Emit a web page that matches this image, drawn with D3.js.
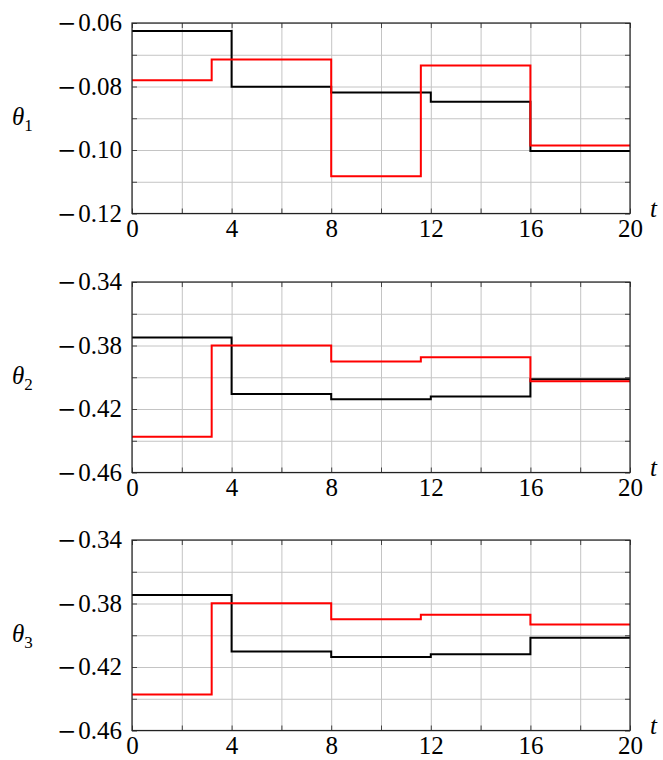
<!DOCTYPE html>
<html>
<meta charset="utf-8" />
<head>
<style>
body { margin: 0; background: #fff; }
</style>
<script src="https://d3js.org/d3.v7.min.js" charset="utf-8"></script>
</head>
<body>
<svg class="chart"></svg>
<script>
// switching times for the two step curves
var tBlack = [0, 4, 8, 12, 16, 20];
var tRed = [0, 3.2, 8, 11.6, 16, 20];

// piecewise-constant values (one per interval)
var theta1Black = [-0.0625, -0.0801, -0.0819, -0.0848, -0.1003];
var theta1Red = [-0.0780, -0.0715, -0.1083, -0.0734, -0.0986];
var theta2Black = [-0.3750, -0.4106, -0.4139, -0.4122, -0.4013];
var theta2Red = [-0.4375, -0.3800, -0.3900, -0.3874, -0.4025];
var theta3Black = [-0.3747, -0.4103, -0.4137, -0.4120, -0.4015];
var theta3Red = [-0.4373, -0.3798, -0.3899, -0.3871, -0.3933];

var xLabelTicks = [0, 4, 8, 12, 16, 20];
var xGridTicks = [0, 2, 4, 6, 8, 10, 12, 14, 16, 18, 20];
var yDomains = [[-0.12, -0.06], [-0.46, -0.34], [-0.46, -0.34]];
var yLabelTicks = [[-0.12, -0.10, -0.08, -0.06], [-0.46, -0.42, -0.38, -0.34], [-0.46, -0.42, -0.38, -0.34]];
var yGridTicks = [d3.range(-0.12, -0.0599, 0.01), d3.range(-0.46, -0.3399, 0.02), d3.range(-0.46, -0.3399, 0.02)];
var panelNames = ["1", "2", "3"];

var chartWidth = 663, chartHeight = 760;
var left = 132, plotW = 498, plotH = 190.5;
var panelTops = [23, 282, 540];
var serif = "'Liberation Serif', 'DejaVu Serif', serif";
var fs = 25;

var svg = d3.select(".chart")
  .attr("width", chartWidth)
  .attr("height", chartHeight)
  .style("display", "block");

var x = d3.scaleLinear().domain([0, 20]).range([0, plotW]);

function stepData(ts, vals) {
  var pts = ts.slice(0, -1).map(function(t, i) { return [t, vals[i]]; });
  pts.push([ts[ts.length - 1], vals[vals.length - 1]]);
  return pts;
}

var series = [
  [theta1Black, theta1Red],
  [theta2Black, theta2Red],
  [theta3Black, theta3Red]
];

// long math-style minus sign in front of the number
function splitMinus(sel) {
  sel.each(function(d) {
    var s = d3.select(this);
    var txt = s.text();
    if (txt.charAt(0) == "\u2212") {
      s.text(null);
      s.append("tspan").attr("font-family", "'DejaVu Serif'").attr("font-size", 23)
        .attr("font-weight", 300).text("\u2212");
      s.append("tspan").attr("dx", 2).text(txt.slice(1));
    }
  });
}

series.forEach(function(sv, p) {
  var g = svg.append("g").attr("transform", "translate(" + left + "," + panelTops[p] + ")");
  var y = d3.scaleLinear().domain(yDomains[p]).range([plotH, 0]);

  // grid
  g.append("g").attr("class", "grid")
    .attr("transform", "translate(0," + plotH + ")")
    .call(d3.axisBottom(x).tickValues(xGridTicks).tickSize(-plotH).tickFormat(""));
  g.append("g").attr("class", "grid")
    .call(d3.axisLeft(y).tickValues(yGridTicks[p]).tickSize(-plotW).tickFormat(""));
  g.selectAll(".grid .domain").remove();
  g.selectAll(".grid line").attr("stroke", "#c4c4c4").attr("stroke-width", 1);

  // inward tick marks on all sides
  var tk = 5;
  g.append("g").attr("class", "tk").attr("transform", "translate(0," + plotH + ")")
    .call(d3.axisBottom(x).tickValues(xGridTicks).tickSize(-tk).tickFormat(""));
  g.append("g").attr("class", "tk")
    .call(d3.axisTop(x).tickValues(xGridTicks).tickSize(-tk).tickFormat(""));
  g.append("g").attr("class", "tk")
    .call(d3.axisLeft(y).tickValues(yGridTicks[p]).tickSize(-tk).tickFormat(""));
  g.append("g").attr("class", "tk").attr("transform", "translate(" + plotW + ",0)")
    .call(d3.axisRight(y).tickValues(yGridTicks[p]).tickSize(-tk).tickFormat(""));
  g.selectAll(".tk .domain").remove();
  g.selectAll(".tk line").attr("stroke", "#444").attr("stroke-width", 1);

  // step curves
  var line = d3.line()
    .x(function(d) { return x(d[0]); })
    .y(function(d) { return y(d[1]); })
    .curve(d3.curveStepAfter);
  g.append("path").datum(stepData(tBlack, sv[0]))
    .attr("d", line).attr("fill", "none").attr("stroke", "black").attr("stroke-width", 2);
  g.append("path").datum(stepData(tRed, sv[1]))
    .attr("d", line).attr("fill", "none").attr("stroke", "#ff0000").attr("stroke-width", 2);

  // frame
  g.append("rect").attr("width", plotW).attr("height", plotH)
    .attr("fill", "none").attr("stroke", "#222").attr("stroke-width", 1.2);

  // tick labels
  var xa = g.append("g").attr("class", "lab").attr("transform", "translate(0," + plotH + ")")
    .call(d3.axisBottom(x).tickValues(xLabelTicks).tickSize(0).tickPadding(6).tickFormat(d3.format("d")));
  var ya = g.append("g").attr("class", "lab")
    .call(d3.axisLeft(y).tickValues(yLabelTicks[p]).tickSize(0).tickPadding(10).tickFormat(d3.format(".2f")));
  g.selectAll(".lab .domain").remove();
  g.selectAll(".lab").attr("font-family", serif).attr("font-size", fs);
  g.selectAll(".lab text").attr("fill", "black");
  ya.selectAll("text").attr("dy", "0.3em").call(splitMinus);

  // axis labels
  var th = g.append("text").attr("x", 12 - left).attr("y", plotH / 2 + 7)
    .attr("font-family", serif).attr("font-size", fs);
  th.append("tspan").attr("font-style", "italic").text("\u03b8");
  th.append("tspan").attr("font-size", 17).attr("dy", 6).text(panelNames[p]);
  g.append("text").attr("x", plotW + 20).attr("y", plotH + 3)
    .attr("font-family", serif).attr("font-size", fs)
    .attr("font-style", "italic").text("t");
});
</script>
</body>
</html>
